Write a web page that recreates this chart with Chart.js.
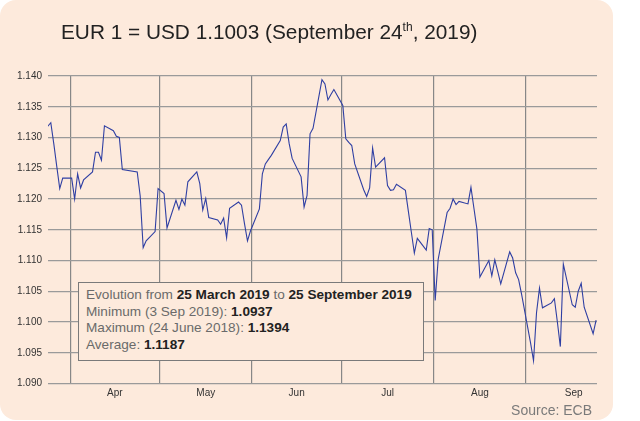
<!DOCTYPE html>
<html>
<head>
<meta charset="utf-8">
<script src="https://cdn.jsdelivr.net/npm/chart.js@4"></script>
<style>
  html, body { margin: 0; padding: 0; background: #ffffff; }
  #wrap { position: relative; width: 640px; height: 421px; overflow: hidden; background: #ffffff; }
  #panel { position: absolute; left: 0; top: 0; width: 613px; height: 420px; background: #fdeadc; border-radius: 16px; }
  #chart { position: absolute; left: 0; top: 0; }
  #title { position: absolute; left: 61px; top: 21px; font-family: "Liberation Sans", Arial, sans-serif; font-size: 20.8px; line-height: 22px; color: #222; white-space: nowrap; }
  #title sup { font-size: 12px; line-height: 0; vertical-align: 8px; }
  #info { position: absolute; left: 78px; top: 282px; width: 337px; height: 73px; padding: 4px 0 0 7px; border: 1px solid #7a7a7a; background: #fdeadc; font-family: "Liberation Sans", Arial, sans-serif; font-size: 13.6px; line-height: 16.7px; color: #6a6a6a; white-space: nowrap; }
  #info b { color: #222; font-weight: bold; }
  #source { position: absolute; right: 48px; top: 403px; font-family: "Liberation Sans", Arial, sans-serif; font-size: 14px; line-height: 14px; color: #7a7a7a; }
</style>
</head>
<body>
<div id="wrap">
  <div id="panel"></div>
  <canvas id="chart" width="640" height="421"></canvas>
  <div id="title">EUR 1 = USD 1.1003 (September 24<sup>th</sup>, 2019)</div>
  <div id="info">
    Evolution from <b>25 March 2019</b> to <b>25 September 2019</b><br>
    Minimum (3 Sep 2019): <b>1.0937</b><br>
    Maximum (24 June 2018): <b>1.1394</b><br>
    Average: <b>1.1187</b>
  </div>
  <div id="source">Source: ECB</div>
</div>
<script>
// Day offsets counted from 25 March 2019 (day 0), ECB business days
const days = [-3, 0, 1, 2, 3, 4, 7, 8, 9, 10, 11, 14, 15, 16, 17, 18, 21, 22, 23, 24,
  29, 30, 31, 32, 35, 36, 38, 39, 42, 43, 44, 45, 46, 49, 50, 51, 52, 53, 56, 57, 58, 59, 60,
  63, 64, 65, 66, 67, 70, 71, 72, 73, 74, 77, 78, 79, 80, 81, 84, 85, 86, 87, 88,
  91, 92, 93, 94, 95, 98, 99, 100, 101, 102, 105, 106, 107, 108, 109, 112, 113, 114, 115, 116,
  119, 120, 121, 122, 123, 126, 127, 128, 129, 130, 133, 134, 135, 136, 137, 140, 141, 142, 143, 144,
  147, 148, 149, 150, 151, 154, 155, 156, 157, 158, 161, 162, 163, 164, 165, 168, 169, 170, 171, 172,
  175, 176, 177, 178, 179, 182, 183];
const rates = [1.1307, 1.1324, 1.1290, 1.1253, 1.1217, 1.1234, 1.1234, 1.1200, 1.1241, 1.1218, 1.1231, 1.1244, 1.1276, 1.1276, 1.1263, 1.1319, 1.1311, 1.1302, 1.1300, 1.1248,
  1.1244, 1.1205, 1.1121, 1.1132, 1.1147, 1.1217, 1.1209, 1.1153, 1.1198, 1.1183, 1.1200, 1.1190, 1.1228, 1.1244, 1.1225, 1.1182, 1.1201, 1.1170, 1.1166, 1.1159, 1.1169, 1.1137, 1.1185,
  1.1195, 1.1190, 1.1160, 1.1132, 1.1148, 1.1184, 1.1241, 1.1257, 1.1264, 1.1271, 1.1295, 1.1317, 1.1322, 1.1290, 1.1266, 1.1236, 1.1187, 1.1206, 1.1306, 1.1315,
  1.1394, 1.1387, 1.1361, 1.1370, 1.1378, 1.1352, 1.1298, 1.1292, 1.1287, 1.1257, 1.1215, 1.1204, 1.1218, 1.1283, 1.1252, 1.1267, 1.1222, 1.1214, 1.1215, 1.1224,
  1.1214, 1.1180, 1.1146, 1.1112, 1.1136, 1.1117, 1.1152, 1.1150, 1.1035, 1.1102, 1.1178, 1.1185, 1.1200, 1.1191, 1.1196, 1.1192, 1.1219, 1.1185, 1.1151, 1.1073,
  1.1100, 1.1075, 1.1101, 1.1082, 1.1062, 1.1114, 1.1104, 1.1080, 1.1069, 1.1045, 1.0966, 1.0937, 1.1015, 1.1055, 1.1023, 1.1031, 1.1038, 1.1000, 1.0960, 1.1094,
  1.1028, 1.1024, 1.1050, 1.1063, 1.1024, 1.0981, 1.1003];

// Month boundaries (grid lines) and month label positions, in day offsets
const monthStarts = [6.5, 36.5, 67.5, 97.5, 128.5, 159.5];
const monthNames = ['Apr', 'May', 'Jun', 'Jul', 'Aug', 'Sep'];
const monthMids = [21.5, 52, 82.5, 113, 144, 175.5];

const yMin = 1.090, yMax = 1.140, yStep = 0.005;
const xMin = -0.94, xMax = 183.3;

const points = days.map((d, i) => ({ x: d, y: rates[i] }));

new Chart(document.getElementById('chart'), {
  type: 'line',
  data: {
    datasets: [{
      data: points,
      borderColor: '#2f3fa3',
      borderWidth: 1.1,
      pointRadius: 0,
      tension: 0,
      fill: false
    }]
  },
  options: {
    responsive: false,
    animation: false,
    events: [],
    layout: { padding: { left: 0, right: 43, top: 76, bottom: 17.5 } },
    plugins: { legend: { display: false }, tooltip: { enabled: false } },
    scales: {
      x: {
        type: 'linear',
        min: xMin,
        max: xMax,
        afterBuildTicks: (s) => {
          s.ticks = monthStarts.concat(monthMids).sort((a, b) => a - b).map(v => ({ value: v }));
        },
        afterFit: (s) => { s.height = 20; },
        ticks: {
          autoSkip: false,
          maxRotation: 0,
          padding: 4,
          color: '#333',
          font: { family: 'Liberation Sans', size: 10 },
          callback: (v) => {
            const i = monthMids.indexOf(v);
            return i >= 0 ? monthNames[i] : '';
          }
        },
        grid: {
          drawTicks: false,
          lineWidth: 1.2,
          color: (ctx) => (ctx.tick && monthStarts.includes(ctx.tick.value)) ? '#878787' : 'rgba(0,0,0,0)'
        },
        border: { display: false }
      },
      y: {
        min: yMin,
        max: yMax,
        afterFit: (s) => { s.width = 48; },
        ticks: {
          stepSize: yStep,
          padding: 6,
          color: '#333',
          font: { family: 'Liberation Sans', size: 10 },
          callback: (v) => Number(v).toFixed(3)
        },
        grid: { drawTicks: false, color: '#9a9a9a', lineWidth: 1.2 },
        border: { display: false }
      }
    }
  }
});
</script>
</body>
</html>
